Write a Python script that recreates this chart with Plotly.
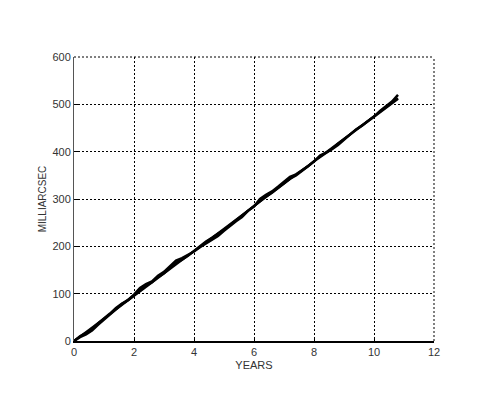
import plotly.graph_objects as go

# years and measured position (milliarcsec)
years = [0.0, 0.2, 0.4, 0.6, 0.8, 1.0, 1.2, 1.4, 1.6, 1.8, 2.0, 2.2, 2.4, 2.6, 2.8,
         3.0, 3.2, 3.4, 3.6, 3.8, 4.0, 4.2, 4.4, 4.6, 4.8, 5.0, 5.2, 5.4, 5.6, 5.8,
         6.0, 6.2, 6.4, 6.6, 6.8, 7.0, 7.2, 7.4, 7.6, 7.8, 8.0, 8.2, 8.4, 8.6, 8.8,
         9.0, 9.2, 9.4, 9.6, 9.8, 10.0, 10.2, 10.4, 10.6, 10.8]
mas = [0, 8, 14, 22, 34, 45, 55, 68, 78, 87, 98, 112, 120, 126, 138,
       146, 158, 170, 175, 182, 189, 198, 206, 213, 222, 233, 244, 253, 262, 275,
       284, 300, 309, 316, 326, 337, 347, 352, 360, 369, 379, 392, 398, 405, 414,
       425, 436, 447, 455, 464, 474, 486, 497, 506, 520]
mas_b = [0, 10, 17, 25, 37, 47, 58, 70, 79, 86, 96, 108, 117, 124, 135,
         143, 154, 165, 172, 180, 190, 200, 210, 218, 226, 235, 245, 255, 265, 276,
         286, 296, 305, 313, 323, 333, 343, 350, 359, 369, 380, 389, 397, 406, 417,
         427, 436, 446, 455, 465, 474, 484, 493, 502, 512]

# straight-line fit
fit_years = [0.0, 10.8]
fit_mas = [0, 513]

fig = go.Figure()

fig.add_trace(go.Scatter(x=years, y=mas_b, mode='lines',
                         line=dict(color='black', width=2.5), showlegend=False))
fig.add_trace(go.Scatter(x=years, y=mas, mode='lines',
                         line=dict(color='black', width=2.5), showlegend=False))
fig.add_trace(go.Scatter(x=fit_years, y=fit_mas, mode='lines',
                         line=dict(color='black', width=2), showlegend=False))

axis_font = dict(family='Liberation Sans, Arial, sans-serif', size=11, color='#333')
ytitle_font = dict(family='Liberation Sans, Arial, sans-serif', size=10, color='#333')
grid_dash = '2px,2px'

# dotted box on top and right, like the grid
fig.add_shape(type='line', xref='paper', yref='paper', x0=0, x1=1, y0=1, y1=1,
              line=dict(color='black', width=1, dash=grid_dash))
fig.add_shape(type='line', xref='paper', yref='paper', x0=1, x1=1, y0=0, y1=1,
              line=dict(color='black', width=1, dash=grid_dash))

fig.update_layout(
    width=499, height=417,
    margin=dict(l=66, r=73, t=49, b=84),
    plot_bgcolor='white', paper_bgcolor='white',
    font=axis_font,
    xaxis=dict(range=[0, 12], dtick=2, showgrid=True, gridcolor='black',
               griddash=grid_dash, gridwidth=1, showline=True, linecolor='black',
               linewidth=1.5, ticks='inside', ticklen=4, tickcolor='black',
               zeroline=False, title=dict(text='YEARS', standoff=4, font=axis_font),
               tickfont=axis_font),
    yaxis=dict(range=[0, 600], dtick=100, showgrid=True, gridcolor='black',
               griddash=grid_dash, gridwidth=1, showline=True, linecolor='#555',
               linewidth=1, ticks='inside', ticklen=4, tickcolor='black',
               zeroline=False, title=dict(text='MILLIARCSEC', standoff=3, font=ytitle_font),
               tickfont=axis_font),
)

fig.write_html("out.html")
